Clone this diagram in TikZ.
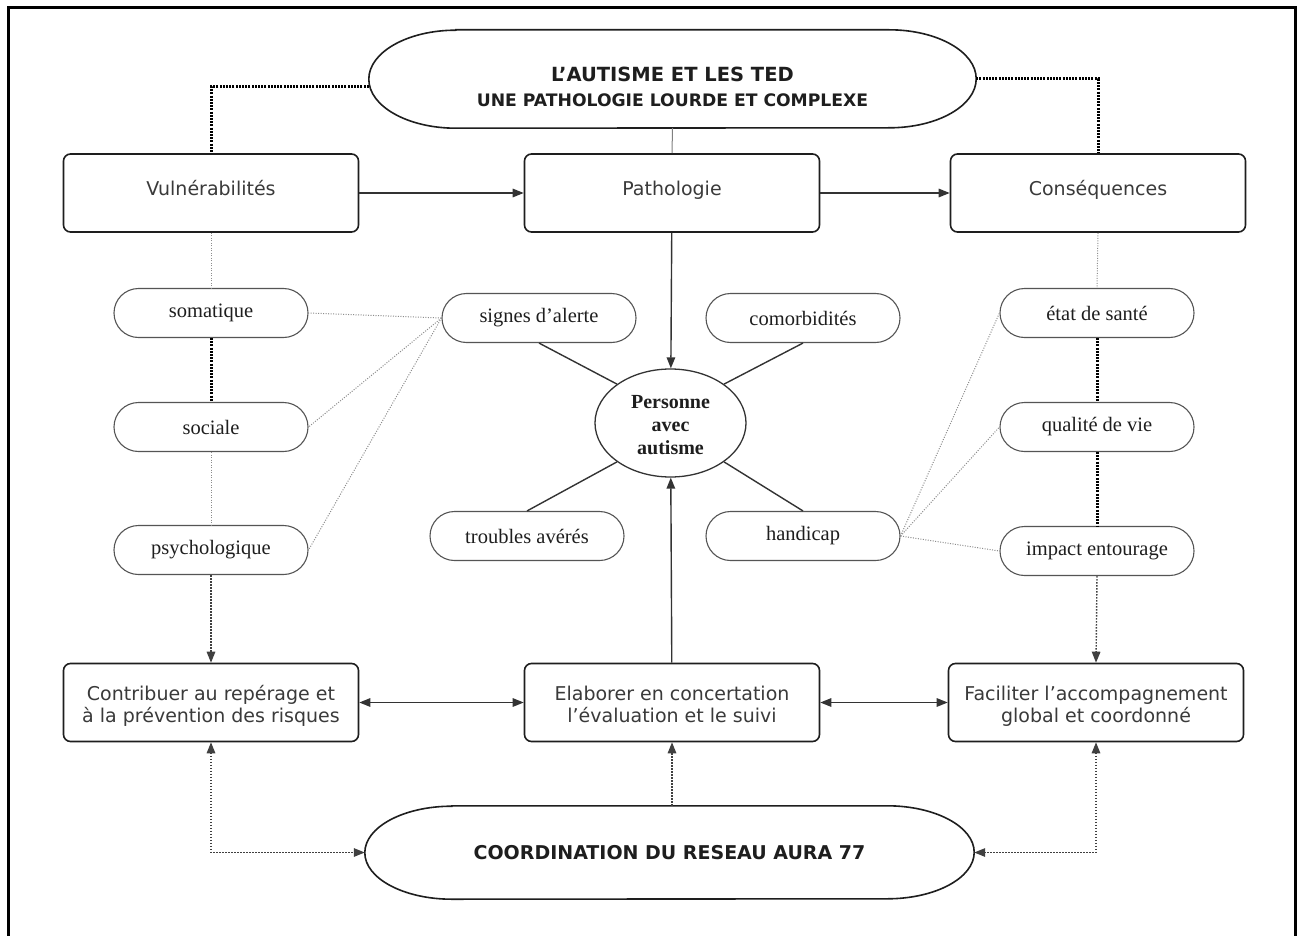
\documentclass[tikz,border=0pt]{standalone}
\usepackage{fontspec}
\setmainfont{Liberation Serif}
\newfontfamily\boxsans{DejaVu Sans}
\usetikzlibrary{arrows.meta,shapes.misc,shapes.geometric}

\definecolor{ink}{HTML}{1E1E1E}
\definecolor{boxtext}{HTML}{3A3A3A}
\definecolor{edge}{HTML}{333333}
\definecolor{faint}{HTML}{8C8C8C}
\definecolor{middot}{HTML}{404040}
\definecolor{pillline}{HTML}{555555}

% two-line centred text, lowered or raised without changing its size
\newcommand\lines[2][0pt]{\raisebox{#1}[\height][\depth]{\begin{tabular}{@{}c@{}}#2\end{tabular}}}

\begin{document}
\begin{tikzpicture}[
  x=1pt, y=-1pt,
  >={Triangle[length=11pt,width=8.5pt]},
  panel/.style={rectangle, rounded corners=7pt, draw=ink, line width=1.6pt,
    minimum width=295pt, minimum height=78pt, inner sep=0pt,
    font=\boxsans\fontsize{19}{22}\selectfont, text=boxtext},
  pill/.style={rounded rectangle, draw=pillline, line width=1.1pt,
    minimum width=194pt, minimum height=49pt, inner sep=0pt,
    font=\fontsize{20.5}{24}\selectfont, text=ink},
  hub/.style={ellipse, draw=edge, line width=1.3pt,
    minimum width=151pt, minimum height=108pt, inner sep=0pt,
    font=\bfseries\fontsize{20}{23}\selectfont, text=ink},
  stadium/.style={rectangle, inner sep=0pt, draw=none},
  outline/.style={draw=ink, line width=1.6pt},
  solidlink/.style={draw=edge, line width=1.4pt},
  thinlink/.style={draw=gray, line width=1pt},
  faintdot/.style={draw=faint, line width=1pt, dash pattern=on 1pt off 1.5pt},
  heavydot/.style={draw=black, line width=3pt, dash pattern=on 2pt off 1.2pt},
  middotted/.style={draw=middot, line width=1.4pt, dash pattern=on 1.5pt off 1.5pt},
  title/.style={font=\boxsans\bfseries, text=ink, anchor=base, inner sep=0pt}
]
\useasboundingbox (0,0) rectangle (1300,936);
\fill[white] (0,0) rectangle (1300,936);

% page frame, open at the bottom
\draw[line width=3pt, draw=black] (8,940) -- (8,8) -- (1295,8) -- (1295,940);

% ---- title capsule
\node[stadium, minimum width=607pt, minimum height=98pt] (T) at (672.5,79) {};
\draw[outline] ([xshift=87pt]T.north west) -- ([xshift=-87pt]T.north east)
  arc[start angle=90, end angle=-90, x radius=87pt, y radius=49pt]
  -- ([xshift=87pt]T.south west)
  arc[start angle=270, end angle=90, x radius=87pt, y radius=49pt] -- cycle;
\node[title, font=\boxsans\bfseries\fontsize{19.5}{23}\selectfont] (t1) at (672.5,82) {L’AUTISME ET LES TED};
\node[title, font=\boxsans\bfseries\fontsize{17.2}{21}\selectfont] (t2) at (672.5,107) {UNE PATHOLOGIE LOURDE ET COMPLEXE};

% ---- coordination capsule
\node[stadium, minimum width=609pt, minimum height=93pt,
      font=\boxsans\bfseries\fontsize{19}{23}\selectfont, text=ink] (C) at (669.5,852.5) {COORDINATION DU RESEAU AURA 77};
\draw[outline] ([xshift=87pt]C.north west) -- ([xshift=-87pt]C.north east)
  arc[start angle=90, end angle=-90, x radius=87pt, y radius=46.5pt]
  -- ([xshift=87pt]C.south west)
  arc[start angle=270, end angle=90, x radius=87pt, y radius=46.5pt] -- cycle;

% ---- upper row
\node[panel] (vul) at (211,193) {\lines[2pt]{Vulnérabilités}};
\node[panel] (pat) at (672,193) {\lines[2pt]{Pathologie}};
\node[panel] (con) at (1098,193) {\lines[2pt]{Conséquences}};

% ---- lower row
\node[panel] (ctr) at (211,702.5) {\lines[-5pt]{Contribuer au repérage et\\à la prévention des risques}};
\node[panel] (ela) at (672,702.5) {\lines[-5pt]{Elaborer en concertation\\l’évaluation et le suivi}};
\node[panel] (fac) at (1096,702.5) {\lines[-5pt]{Faciliter l’accompagnement\\global et coordonné}};

% ---- centre
\node[hub] (pers) at (670.5,423) {\lines[-4pt]{Personne\\avec\\autisme}};

% ---- pills
\node[pill] (som) at (211,313) {somatique};
\node[pill] (soc) at (211,427) {sociale};
\node[pill] (psy) at (211,550) {psychologique};
\node[pill] (sig) at (539,318) {signes d’alerte};
\node[pill] (com) at (803,318) {comorbidités};
\node[pill] (trb) at (527,536) {troubles avérés};
\node[pill] (hand) at (803,536) {handicap};
\node[pill] (ets) at (1097,313) {état de santé};
\node[pill] (qdv) at (1097,427) {qualité de vie};
\node[pill] (imp) at (1097,551) {impact entourage};

% ---- title links
\draw[heavydot] ([yshift=-8pt]T.west) -| (vul.north);
\draw[heavydot] (T.east) -| (con.north);
\draw[thinlink] (T.south) -- (pat.north);

% ---- upper row flow
\draw[solidlink, ->] (vul) -- (pat);
\draw[solidlink, ->] (pat) -- (con);
\draw[solidlink, ->] (pat) -- (pers);
\draw[solidlink, ->] (ela) -- (pers);

% ---- spokes around the person
\draw[solidlink] (sig.south) -- (pers.144);
\draw[solidlink] (com.south) -- (pers.36);
\draw[solidlink] (trb.north) -- (pers.216);
\draw[solidlink] (hand.north) -- (pers.324);

% ---- fan links
\draw[faintdot] (sig.west) -- (som.east);
\draw[faintdot] (sig.west) -- (soc.east);
\draw[faintdot] (sig.west) -- (psy.east);
\draw[faintdot] (hand.east) -- (ets.west);
\draw[faintdot] (hand.east) -- (qdv.west);
\draw[faintdot] (hand.east) -- (imp.west);

% ---- left column
\draw[faintdot] (vul.south) -- (som.north);
\draw[heavydot] (som.south) -- (soc.north);
\draw[faintdot] (soc.south) -- (psy.north);
\draw[middotted, ->] (psy.south) -- (ctr.north);

% ---- right column
\draw[faintdot] (con.south) -- (ets.north);
\draw[heavydot] (ets.south) -- (qdv.north);
\draw[heavydot] (qdv.south) -- (imp.north);
\draw[middotted, ->] (imp.south) -- (fac.north);

% ---- lower row flow
\draw[solidlink, <->] (ctr) -- (ela);
\draw[solidlink, <->] (ela) -- (fac);

% ---- coordination links
\draw[middotted, <->] (ctr.south) |- (C.west);
\draw[middotted, ->] (ela.south |- C.north) -- (ela.south);
\draw[middotted, <->] (fac.south) |- (C.east);
\end{tikzpicture}
\end{document}
